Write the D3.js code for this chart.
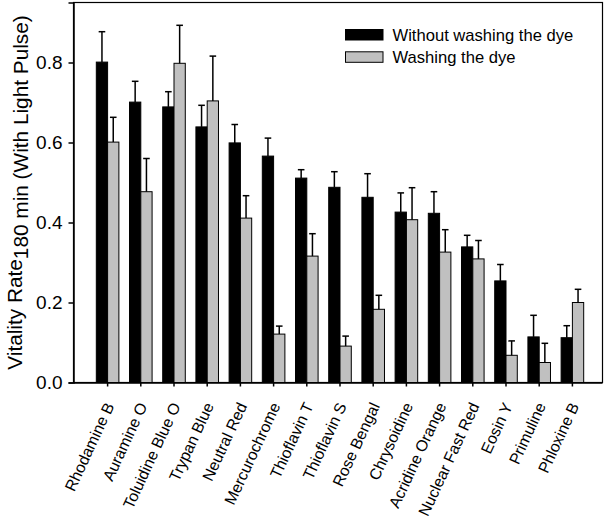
<!DOCTYPE html>
<html><head><meta charset="utf-8">
<script src="https://cdn.jsdelivr.net/npm/d3@7"></script>
<style>body{margin:0;background:#fff;} text{font-family:"Liberation Sans",Arial,sans-serif;}</style>
</head><body><svg id="c" width="606" height="521"></svg>
<script>
const categories = ["Rhodamine B","Auramine O","Toluidine Blue O","Trypan Blue","Neutral Red","Mercurochrome","Thioflavin T","Thioflavin S","Rose Bengal","Chrysoidine","Acridine Orange","Nuclear Fast Red","Eosin Y","Primuline","Phloxine B"];
const withoutWash = [0.801,0.701,0.689,0.639,0.599,0.566,0.511,0.488,0.463,0.426,0.423,0.339,0.254,0.114,0.112];
const withoutWashErr = [0.076,0.052,0.038,0.054,0.046,0.045,0.021,0.039,0.059,0.048,0.054,0.029,0.041,0.054,0.030];
const washing = [0.601,0.477,0.798,0.704,0.411,0.121,0.316,0.091,0.183,0.407,0.326,0.309,0.068,0.050,0.200];
const washingErr = [0.062,0.083,0.095,0.112,0.056,0.020,0.056,0.025,0.035,0.080,0.056,0.046,0.036,0.048,0.033];
const seriesNames = ["Without washing the dye","Washing the dye"];
const yTicks = [0.0,0.2,0.4,0.6,0.8];

(function(){
const svg = d3.select("#c");
const pL = 73.5, pR = 602.5, pT = 2.5, pB = 382.5;
const colors = ["#000000","#c0c0c0"];

const y = d3.scaleLinear().domain([0,0.95]).range([pB, pT]);
const x = d3.scaleBand().domain(categories).range([91,589]).paddingInner(0.32).paddingOuter(0.16);
const xs = d3.scaleBand().domain([0,1]).range([0, x.bandwidth()]);

svg.append("rect").attr("x",pL).attr("y",pT).attr("width",pR-pL).attr("height",pB-pT)
  .attr("fill","none").attr("stroke","#000").attr("stroke-width",1.2);

const series = [
  {vals: withoutWash, errs: withoutWashErr},
  {vals: washing, errs: washingErr}
];

series.forEach((s,si)=>{
  const g = svg.append("g");
  g.selectAll("rect").data(categories).join("rect")
    .attr("x",d=>x(d)+xs(si))
    .attr("y",(d,i)=>y(s.vals[i]))
    .attr("width",xs.bandwidth())
    .attr("height",(d,i)=>y(0)-y(s.vals[i]))
    .attr("fill",colors[si]).attr("stroke","#000").attr("stroke-width",1);
  const eg = svg.append("g").attr("stroke","#000").attr("stroke-width",1.5);
  categories.forEach((d,i)=>{
    const cx = x(d)+xs(si)+xs.bandwidth()/2;
    eg.append("line").attr("x1",cx).attr("x2",cx).attr("y1",y(s.vals[i])).attr("y2",y(s.vals[i]+s.errs[i]));
    eg.append("line").attr("x1",cx-3.3).attr("x2",cx+3.3).attr("y1",y(s.vals[i]+s.errs[i])).attr("y2",y(s.vals[i]+s.errs[i]));
  });
});

const ya = svg.append("g").attr("transform",`translate(${pL},0)`)
  .call(d3.axisLeft(y).tickValues(yTicks).tickFormat(d3.format(".1f")).tickSize(5).tickPadding(6));
ya.select(".domain").attr("stroke-width",1.5);
ya.selectAll(".tick line").attr("stroke-width",1.5);
ya.selectAll("text").attr("font-size",19).attr("fill","#000");

const xa = svg.append("g").attr("transform",`translate(0,${pB})`)
  .call(d3.axisBottom(x).tickSize(4).tickSizeOuter(0));
xa.select(".domain").attr("d",`M${pL},0.5H${pR}`).attr("stroke-width",1.5);
xa.selectAll(".tick line").attr("stroke-width",1.5);
xa.selectAll("text").attr("font-size",15.8).attr("fill","#000")
  .attr("text-anchor","end").attr("y",0).attr("dy","0.35em")
  .attr("transform","translate(2,21) rotate(-65)");

const yl = svg.append("text").attr("transform",`translate(22,${(pT+pB)/2}) rotate(-90)`)
  .attr("text-anchor","middle").attr("font-size",20.8).attr("fill","#000");
yl.append("tspan").text("Vitality Rate");
yl.append("tspan").attr("dy",6).text("180 min (With Light Pulse)");

const lg = svg.append("g");
seriesNames.forEach((n,i)=>{
  const yy = 29.5 + i*22.3;
  lg.append("rect").attr("x",345.5).attr("y",yy).attr("width",37.5).attr("height",10.5)
    .attr("fill",colors[i]).attr("stroke","#000").attr("stroke-width",1);
  lg.append("text").attr("x",392.5).attr("y",yy+5.3).attr("dy","0.35em")
    .attr("font-size",16.6).attr("fill","#000").text(n);
});
})();
</script></body></html>
